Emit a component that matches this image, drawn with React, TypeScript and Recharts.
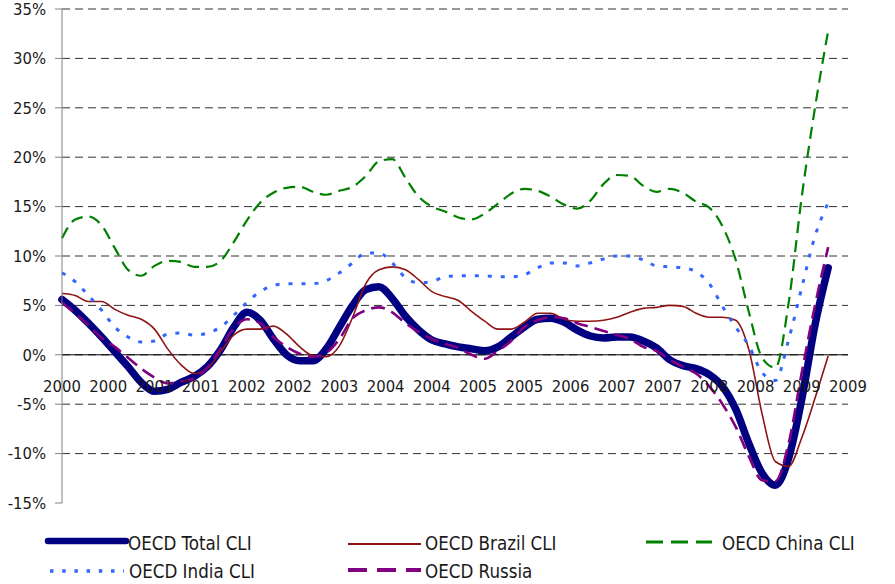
import React from "react";
import {
  LineChart, Line, XAxis, YAxis, CartesianGrid, ReferenceLine, Legend
} from "recharts";

// month index from Jan 2000, sampled every 2 months
const MONTHS = Array.from({ length: 59 }, (_, i) => i * 2);

const TOTAL = [
  5.6, 4.5, 3.2, 1.8, 0.3, -1.2, -2.8, -3.7, -3.5, -2.8, -2.2, -1.2, 0.5, 2.8, 4.3, 3.5, 1.6, 0.0, -0.6, -0.6,
  0.6, 2.8, 5.0, 6.6, 6.9, 5.7, 3.9, 2.5, 1.5, 1.1, 0.8, 0.6, 0.4, 0.8, 1.8, 2.8, 3.6, 3.7, 3.3, 2.5,
  1.9, 1.7, 1.8, 1.8, 1.4, 0.7, -0.5, -1.1, -1.4, -2.0, -3.2, -5.5, -9.0, -12.0, -13.2, -10.5, -4.5, 3.0, 8.8,
];
const BRAZIL = [
  6.2, 6.0, 5.4, 5.4, 4.6, 4.0, 3.6, 2.6, 0.6, -1.0, -1.9, -1.4, 0.3, 2.0, 2.6, 2.6, 2.9, 2.1, 0.8, -0.1,
  -0.2, 0.9, 3.8, 7.2, 8.6, 8.9, 8.6, 7.6, 6.4, 5.9, 5.5, 4.4, 3.4, 2.6, 2.6, 3.3, 4.2, 4.2, 3.6, 3.4,
  3.4, 3.5, 3.8, 4.3, 4.7, 4.8, 5.0, 4.9, 4.2, 3.8, 3.8, 3.5, 0.5, -6.0, -10.8, -11.3, -8.4, -4.4, -0.1,
];
const CHINA = [
  11.8, 13.7, 14.0, 13.1, 10.8, 8.6, 8.0, 9.0, 9.5, 9.4, 8.9, 8.9, 9.5, 11.4, 13.6, 15.4, 16.4, 16.9, 17.0, 16.5,
  16.2, 16.6, 17.0, 18.1, 19.6, 19.8, 17.9, 16.0, 15.0, 14.5, 13.9, 13.7, 14.3, 15.3, 16.3, 16.8, 16.6, 16.0, 15.2, 14.8,
  15.6, 17.3, 18.2, 18.1, 17.1, 16.5, 16.8, 16.4, 15.5, 14.9, 13.0, 9.6, 4.3, -0.3, -1.3, 5.2, 16.0, 25.0, 32.8,
];
const INDIA = [
  8.3, 7.4, 6.0, 4.5, 2.8, 1.8, 1.3, 1.4, 2.1, 2.2, 2.0, 2.2, 2.8, 4.0, 5.3, 6.4, 7.0, 7.2, 7.2, 7.2,
  7.5, 8.3, 9.3, 10.3, 10.3, 9.3, 7.8, 7.3, 7.4, 7.9, 8.0, 8.0, 8.0, 7.9, 7.9, 8.1, 8.8, 9.3, 9.3, 9.0,
  9.3, 9.7, 10.0, 10.0, 9.6, 9.0, 8.9, 8.8, 8.4, 7.2, 4.9, 2.8, 0.9, -1.8, -2.6, 1.5, 6.8, 12.0, 15.4,
];
const RUSSIA = [
  5.3, 4.2, 3.0, 1.7, 0.8, -0.3, -1.4, -2.3, -2.9, -2.7, -2.4, -1.3, 0.6, 2.7, 3.6, 3.2, 1.8, 0.8, 0.1, -0.2,
  0.2, 1.6, 3.7, 4.5, 4.8, 4.3, 3.2, 2.3, 1.6, 1.1, 0.7, 0.0, -0.4, 0.4, 1.4, 2.8, 3.5, 3.8, 3.7, 3.2,
  2.8, 2.4, 2.0, 1.6, 0.8, 0.4, -0.5, -1.2, -1.9, -3.2, -5.0, -7.3, -10.3, -12.7, -12.8, -9.0, -1.8, 5.0, 10.9,
];

const X_TICKS = [0, 7, 14, 21, 28, 35, 42, 49, 56, 63, 70, 77, 84, 91, 98, 105, 112, 119];
const X_LABELS = [
  "2000", "2000", "2001", "2001", "2002", "2002", "2003", "2004", "2004",
  "2005", "2005", "2006", "2007", "2007", "2008", "2008", "2009", "2009",
];
const Y_TICKS = [-15, -10, -5, 0, 5, 10, 15, 20, 25, 30, 35];
const GRID_VALUES = [-10, -5, 0, 5, 10, 15, 20, 25, 30, 35];

const W = 895;
const H = 584;
const MARGIN = { top: 9, right: 47, bottom: 80, left: 0 };
const X_AXIS_H = 1;
const PLOT_H = H - MARGIN.top - MARGIN.bottom - X_AXIS_H;
const Y_MIN = -15;
const Y_MAX = 35;
const ZERO_Y = MARGIN.top + (PLOT_H * Y_MAX) / (Y_MAX - Y_MIN);

const FONT = "'DejaVu Sans Condensed', 'DejaVu Sans', sans-serif";

const data = MONTHS.map((m, i) => ({
  m,
  total: TOTAL[i],
  brazil: BRAZIL[i],
  china: CHINA[i],
  india: INDIA[i],
  russia: RUSSIA[i],
}));

const SERIES = [
  { key: "total", name: "OECD Total CLI", color: "#000080" },
  { key: "brazil", name: "OECD Brazil CLI", color: "#8E1414" },
  { key: "china", name: "OECD China CLI", color: "#008000" },
  { key: "india", name: "OECD India CLI", color: "#3366FF" },
  { key: "russia", name: "OECD Russia", color: "#800080" },
];

// year labels sit just under the zero line, not at the bottom of the plot
function YearTick(props: any) {
  const { x, payload } = props;
  const idx = X_TICKS.indexOf(payload.value);
  return (
    <text x={x} y={ZERO_Y + 32} textAnchor="middle" dominantBaseline="central"
      fontFamily={FONT} fontSize={16.5} fill="#1a1a1a">
      {X_LABELS[idx]}
    </text>
  );
}

function ChartLegend() {
  const text = { fontFamily: FONT, fontSize: 18.6, fill: "#1a1a1a", dominantBaseline: "central" as const };
  return (
    <svg width={W} height={56}>
      <line x1={48} x2={126} y1={13} y2={13} stroke={SERIES[0].color} strokeWidth={6.5} strokeLinecap="round" />
      <text x={128} y={15} {...text}>{SERIES[0].name}</text>

      <line x1={348} x2={421} y1={16} y2={16} stroke={SERIES[1].color} strokeWidth={2} />
      <text x={425} y={15} {...text}>{SERIES[1].name}</text>

      <line x1={646} x2={712} y1={14} y2={14} stroke={SERIES[2].color} strokeWidth={3} strokeDasharray="17 8" />
      <text x={722} y={15} {...text}>{SERIES[2].name}</text>

      <line x1={50} x2={124} y1={43} y2={43} stroke={SERIES[3].color} strokeWidth={3.5} strokeDasharray="3.5 8.7" />
      <text x={129} y={43} {...text}>{SERIES[3].name}</text>

      <line x1={348} x2={421} y1={42} y2={42} stroke={SERIES[4].color} strokeWidth={4} strokeDasharray="19 10" />
      <text x={425} y={43} {...text}>{SERIES[4].name}</text>
    </svg>
  );
}

export default function App() {
  return (
    <div style={{ position: "absolute", left: 0, top: 0, width: W, height: H, background: "#fff" }}>
      <LineChart width={W} height={H} data={data} margin={MARGIN}>
        <CartesianGrid vertical={false} horizontalValues={GRID_VALUES} stroke="#333" strokeDasharray="8 5" />
        <XAxis dataKey="m" type="number" domain={[0, 119]} ticks={X_TICKS} interval={0}
          height={X_AXIS_H} axisLine={false} tickLine={false} tick={<YearTick />} />
        <YAxis type="number" domain={[Y_MIN, Y_MAX]} ticks={Y_TICKS} interval={0} width={62}
          tickFormatter={(v: number) => `${v}%`} axisLine={{ stroke: "#808080" }}
          tickLine={{ stroke: "#808080" }} tickSize={7} tickMargin={9}
          tick={{ fontFamily: FONT, fontSize: 16.5, fill: "#1a1a1a" }} />
        <ReferenceLine y={0} stroke="#000" strokeWidth={1} />
        <Line type="monotone" dataKey="total" name={SERIES[0].name} stroke={SERIES[0].color}
          strokeWidth={7.5} strokeLinejoin="round" strokeLinecap="round" dot={false} activeDot={false} isAnimationActive={false} />
        <Line type="monotone" dataKey="brazil" name={SERIES[1].name} stroke={SERIES[1].color}
          strokeWidth={1.6} dot={false} activeDot={false} isAnimationActive={false} />
        <Line type="monotone" dataKey="china" name={SERIES[2].name} stroke={SERIES[2].color}
          strokeWidth={2.2} strokeDasharray="12 7" dot={false} activeDot={false} isAnimationActive={false} />
        <Line type="monotone" dataKey="india" name={SERIES[3].name} stroke={SERIES[3].color}
          strokeWidth={3} strokeDasharray="4 9" dot={false} activeDot={false} isAnimationActive={false} />
        <Line type="monotone" dataKey="russia" name={SERIES[4].name} stroke={SERIES[4].color}
          strokeWidth={2.6} strokeDasharray="14 7" dot={false} activeDot={false} isAnimationActive={false} />
        <Legend layout="horizontal" verticalAlign="middle" align="center" content={<ChartLegend />}
          wrapperStyle={{ top: 528, left: 0, width: W, height: 56 }} />
      </LineChart>
    </div>
  );
}
